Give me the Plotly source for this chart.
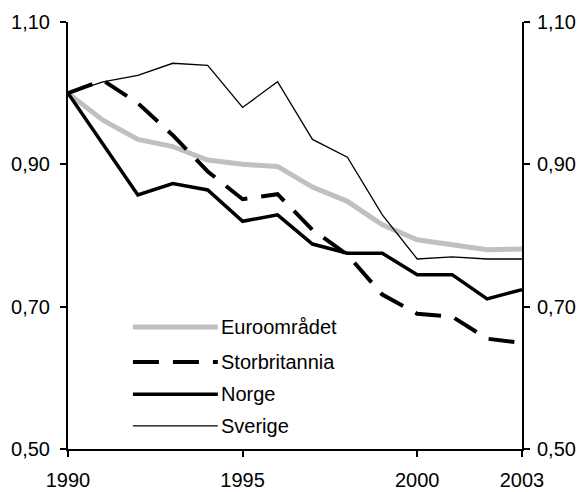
import plotly.graph_objects as go

years = list(range(1990, 2004))
euro = [1.00, 0.962, 0.935, 0.925, 0.906, 0.900, 0.897, 0.868, 0.848, 0.815, 0.794, 0.787, 0.780, 0.781]
uk = [1.00, 1.018, 0.986, 0.941, 0.890, 0.851, 0.858, 0.808, 0.773, 0.717, 0.690, 0.686, 0.655, 0.649]
norge = [1.00, 0.928, 0.857, 0.873, 0.864, 0.820, 0.829, 0.788, 0.775, 0.775, 0.745, 0.745, 0.711, 0.724]
sverige = [1.00, 1.016, 1.025, 1.042, 1.039, 0.980, 1.016, 0.935, 0.910, 0.829, 0.767, 0.770, 0.767, 0.767]

names = ["Euroområdet", "Storbritannia", "Norge", "Sverige"]
series = [euro, uk, norge, sverige]
styles = [
    dict(color="#C0C0C0", width=5, dash="solid"),
    dict(color="#000000", width=4, dash="26px,14px"),
    dict(color="#000000", width=3.5, dash="solid"),
    dict(color="#000000", width=1.3, dash="solid"),
]
x_ticks = [1990, 1995, 2000, 2003]
y_ticks = [0.50, 0.70, 0.90, 1.10]

FONT = "Arial, Liberation Sans, sans-serif"

fig = go.Figure()
for name, vals, st in zip(names, series, styles):
    fig.add_trace(go.Scatter(x=years, y=vals, mode="lines", name=name, line=st,
                             showlegend=False))
# invisible trace to activate the mirrored right axis
fig.add_trace(go.Scatter(x=years, y=euro, mode="lines", yaxis="y2",
                         line=dict(width=0), opacity=0, showlegend=False, hoverinfo="skip"))

# manual legend (long line samples like the reference)
leg_y = [0.286, 0.204, 0.128, 0.054]
for name, st, yy in zip(names, styles, leg_y):
    fig.add_shape(type="line", xref="paper", yref="paper", x0=0.143, x1=0.330, y0=yy, y1=yy,
                  line=st)
    fig.add_annotation(xref="paper", yref="paper", x=0.333, y=yy, text=name, showarrow=False,
                       xanchor="left", yanchor="middle", font=dict(family=FONT, size=20, color="black"))

axis_common = dict(showline=True, linecolor="black", linewidth=2, ticks="outside", ticklen=6,
                   tickwidth=1.5, tickcolor="black", showgrid=False, zeroline=False, automargin=False,
                   tickfont=dict(family=FONT, size=20, color="black"))

fig.update_layout(
    width=580, height=492,
    margin=dict(l=68, r=58, t=22, b=43),
    paper_bgcolor="white", plot_bgcolor="white",
    separators=", ",
    showlegend=False,
    xaxis=dict(range=[1990, 2003], tickvals=x_ticks, ticktext=[str(v) for v in x_ticks],
               ticklabelstandoff=6, **axis_common),
    yaxis=dict(range=[0.50, 1.10], tickvals=y_ticks, tickformat=".2f", ticklabelstandoff=6,
               **axis_common),
    yaxis2=dict(range=[0.50, 1.10], tickvals=y_ticks, tickformat=".2f", overlaying="y", side="right",
                ticklabelstandoff=3, **axis_common),
)

fig.write_html("out.html", config={"displayModeBar": False},
               post_script="document.body.style.margin='0';document.body.style.padding='0';")
